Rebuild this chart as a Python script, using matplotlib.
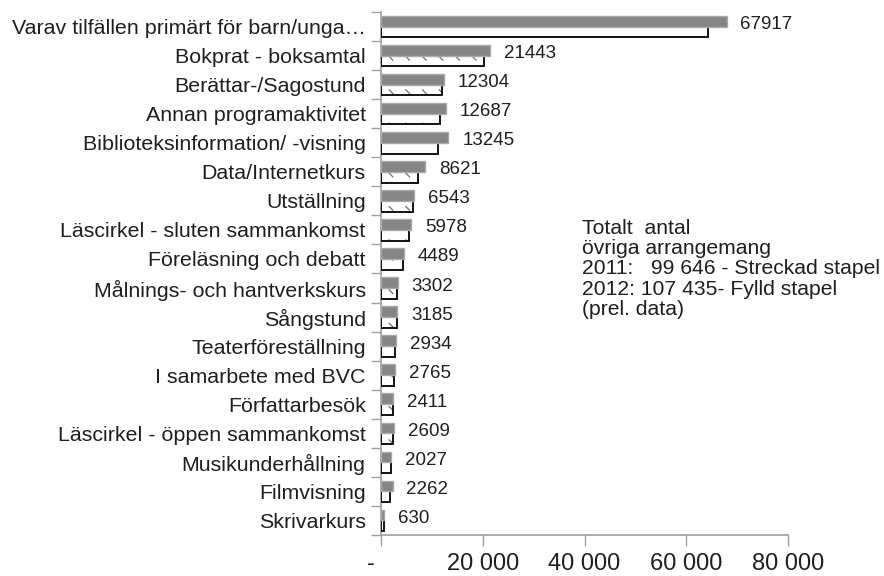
import matplotlib
matplotlib.use("Agg")
import matplotlib.pyplot as plt
import matplotlib.hatch as mhatch
from matplotlib.path import Path
import numpy as np

plt.rcParams['font.family'] = ['Liberation Sans', 'DejaVu Sans']
plt.rcParams['hatch.linewidth'] = 0.9


class DashedDiagonalHatch(mhatch.HatchPatternBase):
    """Sparse grid of short '\\' dashes, used for the '\\' hatch."""

    def __init__(self, hatch, density):
        self.n = int(hatch.count('\\') * density)
        self.num_vertices = 2 * self.n * self.n

    def set_vertices_and_codes(self, vertices, codes):
        step = 1.0 / self.n
        length = 0.22 * step
        k = 0
        for i in range(self.n):
            for j in range(self.n):
                x = (i + 0.35) * step
                y = (j + 0.5) * step
                vertices[k] = (x, y + length / 2)
                vertices[k + 1] = (x + length, y - length / 2)
                codes[k] = Path.MOVETO
                codes[k + 1] = Path.LINETO
                k += 2


mhatch._hatch_types = [DashedDiagonalHatch]

categories = [
    "Varav tilfällen primärt för barn/unga…",
    "Bokprat - boksamtal",
    "Berättar-/Sagostund",
    "Annan programaktivitet",
    "Biblioteksinformation/ -visning",
    "Data/Internetkurs",
    "Utställning",
    "Läscirkel - sluten sammankomst",
    "Föreläsning och debatt",
    "Målnings- och hantverkskurs",
    "Sångstund",
    "Teaterföreställning",
    "I samarbete med BVC",
    "Författarbesök",
    "Läscirkel - öppen sammankomst",
    "Musikunderhållning",
    "Filmvisning",
    "Skrivarkurs",
]
values_2012 = [67917, 21443, 12304, 12687, 13245, 8621, 6543, 5978, 4489,
               3302, 3185, 2934, 2765, 2411, 2609, 2027, 2262, 630]
values_2011 = [64200, 20300, 12080, 11620, 11300, 7350, 6250, 5520, 4280,
               3100, 3160, 2820, 2640, 2420, 2420, 2020, 1800, 610]

xticks = [0, 20000, 40000, 60000, 80000]
xtick_labels = ["-   ", "20 000", "40 000", "60 000", "80 000"]

note = ("Totalt  antal\n"
        "övriga arrangemang\n"
        "2011:   99 646 - Streckad stapel\n"
        "2012: 107 435- Fylld stapel\n"
        "(prel. data)")

text_col = "#1f1f1f"
axis_col = "#a0a0a0"

fig = plt.figure(figsize=(8.84, 5.76), dpi=100)
ax = fig.add_axes([381 / 884, 1 - 535 / 576, (788 - 381) / 884, (535 - 12) / 576])

y = np.arange(len(categories))
h = 0.37

# 2011: white bars with sparse dashed hatching and a dark outline
ax.barh(y + h / 2, values_2011, height=h, color="white", edgecolor="#707070",
        hatch="\\", linewidth=0, zorder=2)
ax.barh(y + h / 2, values_2011, height=h, fill=False, edgecolor="black",
        linewidth=1.3, zorder=3)
# 2012: solid grey bars
ax.barh(y - h / 2, values_2012, height=h, color="#858585",
        edgecolor="#a9a9a9", linewidth=1.0, zorder=4)

for yi, v in zip(y, values_2012):
    ax.annotate(str(v), xy=(v, yi - h / 2), xytext=(10, -1),
                textcoords="offset points", va="center_baseline", ha="left",
                fontsize=13.5, color=text_col)

ax.set_xlim(0, 80000)
ax.set_ylim(len(categories) - 0.5, -0.5)

ax.set_xticks(xticks)
ax.set_xticklabels(xtick_labels, fontsize=17, color=text_col)
ax.tick_params(axis="x", direction="out", length=8, width=1, color=axis_col, pad=5)

ax.set_yticks(y)
ax.set_yticklabels(categories, fontsize=15.4, color=text_col)
ax.tick_params(axis="y", which="major", length=0, pad=11)
ax.set_yticks(np.arange(-0.5, len(categories), 1), minor=True)
ax.tick_params(axis="y", which="minor", direction="out", length=7, width=1, color=axis_col)

for s in ("top", "right"):
    ax.spines[s].set_visible(False)
for s in ("left", "bottom"):
    ax.spines[s].set_color(axis_col)
    ax.spines[s].set_linewidth(1.2)

fig.text(582 / 884, 1 - 219 / 576, note, fontsize=15.2, color=text_col,
         ha="left", va="top", linespacing=1.08)

fig.savefig("out.png", dpi=100)
